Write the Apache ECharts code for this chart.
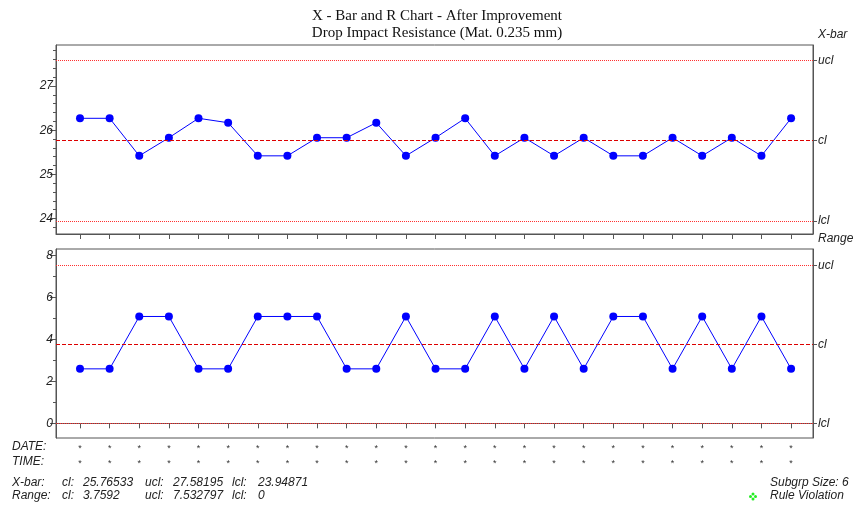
<!DOCTYPE html>
<html>
<head>
<meta charset="utf-8">
<script src="https://cdn.jsdelivr.net/npm/echarts@6/dist/echarts.min.js"></script>
<style>html,body{margin:0;padding:0;background:#fff}#c{width:855px;height:506px}</style>
</head>
<body>
<div id="c"></div>
<script>
// ---- data ----
const subgroups = [1,2,3,4,5,6,7,8,9,10,11,12,13,14,15,16,17,18,19,20,21,22,23,24,25];
const xbarValues = [26.27,26.27,25.42,25.83,26.27,26.17,25.42,25.42,25.83,25.83,26.17,25.42,25.83,26.27,25.42,25.83,25.42,25.83,25.42,25.42,25.83,25.42,25.83,25.42,26.27];
const rangeValues = [2.6,2.6,5.1,5.1,2.6,2.6,5.1,5.1,5.1,2.6,2.6,5.1,2.6,2.6,5.1,2.6,5.1,2.6,5.1,5.1,2.6,5.1,2.6,5.1,2.6];
const xbarLimits = {cl: 25.76533, ucl: 27.58195, lcl: 23.94871};
const rangeLimits = {cl: 3.7592, ucl: 7.532797, lcl: 0};
const xbarTicks = [24,25,26,27];
const xbarMinorTicks = [23.8,24.2,24.4,24.6,24.8,25.2,25.4,25.6,25.8,26.2,26.4,26.6,26.8,27.2,27.4,27.6,27.8];
const rangeTicks = [0,2,4,6,8];
const rangeMinorTicks = [1,3,5,7];
const limitNames = ['lcl','cl','ucl'];

const chart = echarts.init(document.getElementById('c'), null, {renderer:'canvas'});
const axisColor = '#555';
const lblFont = {fontFamily:'Liberation Sans, Arial, sans-serif', fontStyle:'italic', fontSize:12, color:'#222'};

function xAxis(gi, withLabels){
  return {
    type:'value', gridIndex:gi, min:0.19, max:25.74,
    axisLine:{show:true, lineStyle:{color:axisColor}},
    axisTick:{show:true, inside:false, length:5, customValues:subgroups, lineStyle:{color:axisColor}},
    axisLabel: withLabels ? {show:true, customValues:subgroups, formatter:()=>'*\n*', fontSize:9, lineHeight:15, color:'#333', margin:3, verticalAlign:'top'} : {show:false},
    splitLine:{show:false}
  };
}
function yAxes(gi, mn, mx, ticks, minors, lim){
  const limVals = [lim.lcl, lim.cl, lim.ucl];
  return [
    {type:'value', gridIndex:gi, position:'left', min:mn, max:mx,
     axisLine:{show:true, lineStyle:{color:axisColor}},
     axisTick:{show:true, length:6, customValues:ticks, lineStyle:{color:axisColor}},
     axisLabel:Object.assign({show:true, customValues:ticks, margin:3}, lblFont),
     splitLine:{show:false}},
    {type:'value', gridIndex:gi, position:'left', min:mn, max:mx,
     axisLine:{show:false},
     axisTick:{show:true, length:3, customValues:minors, lineStyle:{color:axisColor}},
     axisLabel:{show:false}, splitLine:{show:false}},
    {type:'value', gridIndex:gi, position:'right', min:mn, max:mx,
     axisLine:{show:true, lineStyle:{color:axisColor}},
     axisTick:{show:true, length:4, customValues:limVals, lineStyle:{color:axisColor}},
     axisLabel:Object.assign({show:true, customValues:limVals, margin:5,
       formatter:(v)=>{const k = limVals.findIndex(x=>Math.abs(x-v)<1e-9); return k>=0 ? limitNames[k] : '';}}, lblFont),
     splitLine:{show:false}}
  ];
}
function limitLines(lim){
  return {
    silent:true, symbol:['none','none'], label:{show:false}, animation:false,
    data:[
      {yAxis:lim.ucl, lineStyle:{color:'#ff3030', type:[1,1], width:1}},
      {yAxis:lim.cl, lineStyle:{color:'#dd0000', type:[4,2], width:1}},
      {yAxis:lim.lcl, lineStyle:{color:'#ff3030', type:[1,1], width:1}}
    ]
  };
}

const option = {
  animation:false,
  title:{
    text:'X - Bar and R Chart - After Improvement\nDrop Impact Resistance (Mat. 0.235 mm)',
    left:432, top:3, textAlign:'center',
    textStyle:{fontFamily:'Liberation Serif, Times New Roman, serif', fontWeight:'normal', fontSize:15, lineHeight:17, color:'#111'}
  },
  grid:[
    {left:56, right:42, top:45, height:189, show:true, borderColor:axisColor, borderWidth:1, containLabel:false},
    {left:56, right:42, top:249, height:189, show:true, borderColor:axisColor, borderWidth:1, containLabel:false}
  ],
  xAxis:[xAxis(0,false), xAxis(1,true)],
  yAxis:[].concat(
    yAxes(0, 23.65, 27.93, xbarTicks, xbarMinorTicks, xbarLimits),
    yAxes(1, -0.7, 8.32, rangeTicks, rangeMinorTicks, rangeLimits)
  ),
  series:[
    {type:'line', xAxisIndex:0, yAxisIndex:0, data:subgroups.map((s,i)=>[s, xbarValues[i]]),
     symbol:'circle', symbolSize:8, itemStyle:{color:'#0000ff'}, lineStyle:{color:'#0000ff', width:1},
     markLine:limitLines(xbarLimits)},
    {type:'line', xAxisIndex:1, yAxisIndex:3, data:subgroups.map((s,i)=>[s, rangeValues[i]]),
     symbol:'circle', symbolSize:8, itemStyle:{color:'#0000ff'}, lineStyle:{color:'#0000ff', width:1},
     markLine:limitLines(rangeLimits)}
  ],
  graphic:(function(){
    const f = {fontFamily:'Liberation Sans, Arial, sans-serif', fontStyle:'italic', fontSize:12, fill:'#222'};
    const t = (x,y,s)=>({type:'text', left:x, top:y, style:Object.assign({text:s}, f)});
    const dot = (cx,cy)=>({type:'circle', shape:{cx:cx, cy:cy, r:1.5}, style:{fill:'#22ee22'}});
    return [
      t(818,29,'X-bar'), t(818,233,'Range'),
      t(12,441,'DATE:'), t(12,456,'TIME:'),
      t(12,477,'X-bar:'), t(62,477,'cl:'), t(83,477,String(xbarLimits.cl)), t(145,477,'ucl:'), t(173,477,String(xbarLimits.ucl)), t(232,477,'lcl:'), t(258,477,String(xbarLimits.lcl)),
      t(12,490,'Range:'), t(62,490,'cl:'), t(83,490,String(rangeLimits.cl)), t(145,490,'ucl:'), t(173,490,String(rangeLimits.ucl)), t(232,490,'lcl:'), t(258,490,String(rangeLimits.lcl)),
      t(770,477,'Subgrp Size: 6'), t(770,490,'Rule Violation'),
      dot(750.5,496.5), dot(755.5,496.5), dot(753,494), dot(753,499)
    ];
  })()
};
chart.setOption(option);
</script>
</body>
</html>
